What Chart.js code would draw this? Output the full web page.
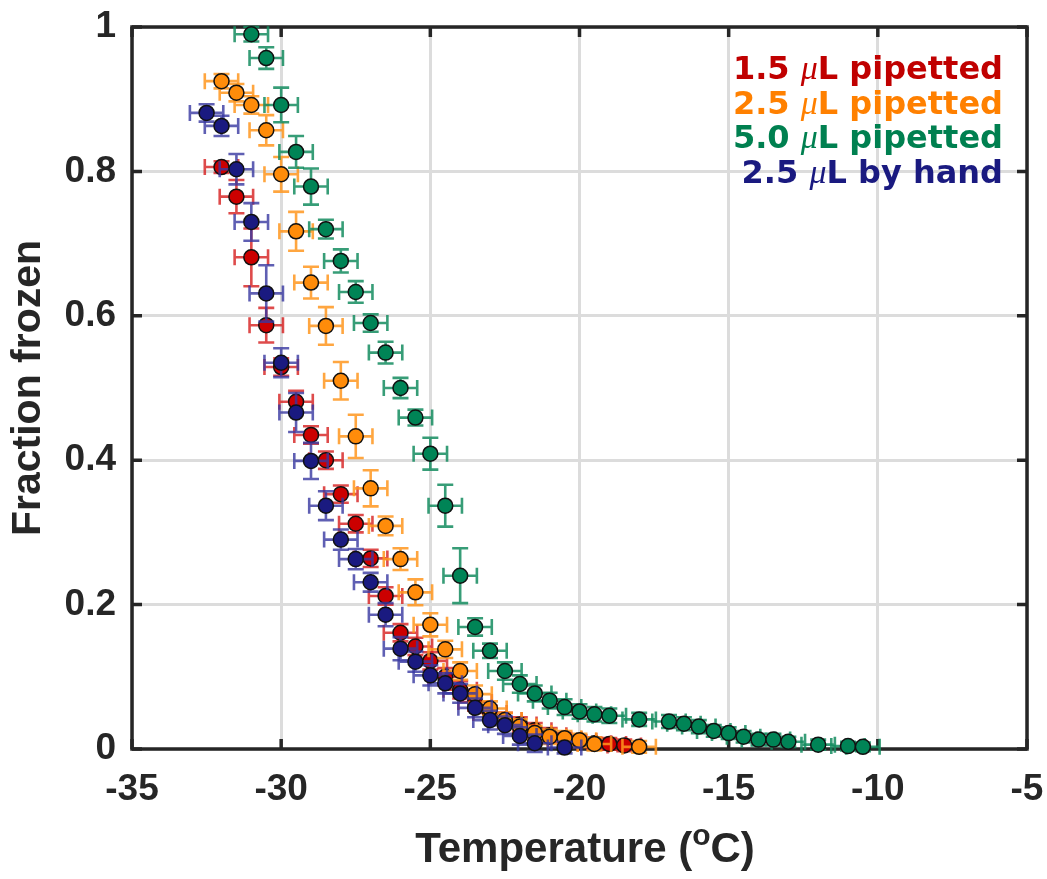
<!DOCTYPE html>
<html>
<head>
<meta charset="utf-8">
<script src="https://cdn.jsdelivr.net/npm/chart.js@4.4.0/dist/chart.umd.min.js"></script>
<style>
  html, body { margin: 0; padding: 0; background: #fff; }
</style>
</head>
<body>
<canvas id="graficoCongelado" width="1047" height="879"></canvas>
<script>
// Temperatura (°C), fracción congelada y error vertical de cada serie
const tempRed = [-32, -31.5, -31, -30.5, -30, -29.5, -29, -28.5, -28, -27.5, -27, -26.5, -26, -25.5, -25, -24.5, -24, -23.5, -23, -22.5, -22, -21.5, -21, -20.5, -20, -19.5, -19, -18.5];
const fracRed = [0.806, 0.765, 0.681, 0.587, 0.529, 0.481, 0.435, 0.400, 0.353, 0.312, 0.264, 0.212, 0.161, 0.142, 0.122, 0.100, 0.082, 0.065, 0.050, 0.040, 0.034, 0.026, 0.019, 0.014, 0.011, 0.008, 0.007, 0.005];
const errRed = [0.008, 0.023, 0.040, 0.024, 0.012, 0.015, 0.012, 0.012, 0.012, 0.012, 0.012, 0.012, 0.012, 0.012, 0.012, 0.012, 0.012, 0.012, 0.010, 0.010, 0.010, 0.010, 0.010, 0.008, 0.008, 0.008, 0.008, 0.008];

const tempOrange = [-32, -31.5, -31, -30.5, -30, -29.5, -29, -28.5, -28, -27.5, -27, -26.5, -26, -25.5, -25, -24.5, -24, -23.5, -23, -22.5, -22, -21.5, -21, -20.5, -20, -19.5, -18];
const fracOrange = [0.925, 0.909, 0.892, 0.857, 0.796, 0.717, 0.646, 0.586, 0.510, 0.433, 0.361, 0.309, 0.263, 0.217, 0.172, 0.138, 0.108, 0.076, 0.056, 0.040, 0.031, 0.022, 0.017, 0.015, 0.012, 0.007, 0.003];
const errOrange = [0.010, 0.012, 0.012, 0.021, 0.024, 0.027, 0.022, 0.026, 0.026, 0.030, 0.025, 0.013, 0.015, 0.018, 0.016, 0.012, 0.012, 0.012, 0.010, 0.010, 0.010, 0.010, 0.010, 0.010, 0.009, 0.009, 0.008];

const tempGreen = [-31, -30.5, -30, -29.5, -29, -28.5, -28, -27.5, -27, -26.5, -26, -25.5, -25, -24.5, -24, -23.5, -23, -22.5, -22, -21.5, -21, -20.5, -20, -19.5, -19, -18, -17, -16.5, -16, -15.5, -15, -14.5, -14, -13.5, -13, -12, -11, -10.5];
const fracGreen = [0.990, 0.957, 0.892, 0.827, 0.779, 0.720, 0.676, 0.633, 0.590, 0.549, 0.500, 0.459, 0.409, 0.337, 0.240, 0.169, 0.136, 0.108, 0.090, 0.077, 0.067, 0.058, 0.052, 0.048, 0.046, 0.041, 0.038, 0.035, 0.031, 0.025, 0.022, 0.017, 0.013, 0.013, 0.010, 0.006, 0.004, 0.003];
const errGreen = [0.010, 0.015, 0.024, 0.022, 0.025, 0.013, 0.016, 0.015, 0.012, 0.015, 0.014, 0.011, 0.022, 0.029, 0.038, 0.012, 0.010, 0.012, 0.012, 0.011, 0.011, 0.011, 0.010, 0.010, 0.010, 0.009, 0.009, 0.009, 0.009, 0.008, 0.008, 0.008, 0.008, 0.008, 0.007, 0.007, 0.006, 0.006];

const tempBlue = [-32.5, -32, -31.5, -31, -30.5, -30, -29.5, -29, -28.5, -28, -27.5, -27, -26.5, -26, -25.5, -25, -24.5, -24, -23.5, -23, -22.5, -22, -21.5, -20.5];
const fracBlue = [0.881, 0.863, 0.803, 0.730, 0.631, 0.535, 0.466, 0.399, 0.337, 0.290, 0.263, 0.231, 0.186, 0.139, 0.121, 0.102, 0.091, 0.077, 0.057, 0.040, 0.033, 0.018, 0.008, 0.002];
const errBlue = [0.012, 0.014, 0.021, 0.026, 0.039, 0.020, 0.027, 0.025, 0.020, 0.014, 0.014, 0.013, 0.016, 0.016, 0.014, 0.014, 0.014, 0.013, 0.013, 0.013, 0.012, 0.012, 0.012, 0.008];

// error horizontal de la temperatura (°C), igual para todos los puntos
const tempErr = 0.56;

const xTicks = ['-35', '-30', '-25', '-20', '-15', '-10', '-5'];
const yTicks = ['0', '0.2', '0.4', '0.6', '0.8', '1'];

const legendVolume = ['1.5 ', '2.5 ', '5.0 ', '2.5 '];
const legendMethod = ['L pipetted', 'L pipetted', 'L pipetted', 'L by hand'];

const FONT = '"Liberation Sans", Arial, sans-serif';
const INK = '#262626';

function puntos(tx, fy, ey) {
    return tx.map((t, i) => ({ x: t, y: fy[i], e: ey[i] }));
}

// colores: relleno del marcador, barras de error, texto de la leyenda
const series = [
    { data: puntos(tempRed, fracRed, errRed), fill: '#cc0000', bar: 'rgba(214,30,30,0.8)', text: '#c00000', order: 4 },
    { data: puntos(tempOrange, fracOrange, errOrange), fill: '#ff8c0a', bar: 'rgba(255,150,30,0.85)', text: '#ff8000', order: 3 },
    { data: puntos(tempGreen, fracGreen, errGreen), fill: '#008456', bar: 'rgba(20,140,95,0.85)', text: '#008050', order: 2 },
    { data: puntos(tempBlue, fracBlue, errBlue), fill: '#1a1a80', bar: 'rgba(55,55,160,0.8)', text: '#1a1a80', order: 1 }
];

// Barras de error dibujadas justo antes de los marcadores de cada serie
const barrasError = {
    id: 'barrasError',
    beforeDatasetDraw(chart, args) {
        const ds = chart.data.datasets[args.index];
        const sx = chart.scales.x, sy = chart.scales.y;
        const ctx = chart.ctx;
        const cap = 8;
        ctx.save();
        ctx.strokeStyle = ds.barColor;
        ctx.lineWidth = 2.6;
        ds.data.forEach(p => {
            const px = sx.getPixelForValue(p.x), py = sy.getPixelForValue(p.y);
            const x0 = sx.getPixelForValue(p.x - tempErr), x1 = sx.getPixelForValue(p.x + tempErr);
            const y0 = sy.getPixelForValue(p.y - p.e), y1 = sy.getPixelForValue(p.y + p.e);
            ctx.beginPath();
            ctx.moveTo(x0, py); ctx.lineTo(x1, py);
            ctx.moveTo(x0, py - cap); ctx.lineTo(x0, py + cap);
            ctx.moveTo(x1, py - cap); ctx.lineTo(x1, py + cap);
            ctx.moveTo(px, y0); ctx.lineTo(px, y1);
            ctx.moveTo(px - cap, y0); ctx.lineTo(px + cap, y0);
            ctx.moveTo(px - cap, y1); ctx.lineTo(px + cap, y1);
            ctx.stroke();
        });
        ctx.restore();
    }
};

// Marco del gráfico con marcas hacia dentro en los cuatro lados
const marco = {
    id: 'marco',
    beforeDatasetsDraw(chart) {
        const { ctx, chartArea: a, scales } = chart;
        const len = 10;
        ctx.save();
        ctx.strokeStyle = INK;
        ctx.lineWidth = 3.5;
        ctx.beginPath();
        scales.x.ticks.forEach(t => {
            const px = scales.x.getPixelForValue(t.value);
            ctx.moveTo(px, a.bottom); ctx.lineTo(px, a.bottom - len);
            ctx.moveTo(px, a.top); ctx.lineTo(px, a.top + len);
        });
        scales.y.ticks.forEach(t => {
            const py = scales.y.getPixelForValue(t.value);
            ctx.moveTo(a.left, py); ctx.lineTo(a.left + len, py);
            ctx.moveTo(a.right, py); ctx.lineTo(a.right - len, py);
        });
        ctx.stroke();
        ctx.strokeRect(a.left, a.top, a.right - a.left, a.bottom - a.top);
        ctx.restore();
    }
};

// Leyenda de texto coloreado y título del eje x con superíndice
const textos = {
    id: 'textos',
    afterDraw(chart) {
        const ctx = chart.ctx;
        const a = chart.chartArea;
        ctx.save();
        ctx.textBaseline = 'alphabetic';
        ctx.textAlign = 'left';

        const fBold = 'bold 32px "DejaVu Sans", sans-serif';
        const fMu = 'italic 34px "Liberation Serif", serif';
        const right = 1003;
        legendVolume.forEach((vol, i) => {
            const base = 79 + i * 34.5;
            ctx.font = fBold;
            const w1 = ctx.measureText(vol).width;
            const w3 = ctx.measureText(legendMethod[i]).width;
            ctx.font = fMu;
            const w2 = ctx.measureText('\u03bc').width;
            let x = right - (w1 + w2 + w3);
            ctx.fillStyle = series[i].text;
            ctx.font = fBold;
            ctx.fillText(vol, x, base);
            x += w1;
            ctx.font = fMu;
            ctx.fillText('\u03bc', x, base);
            x += w2;
            ctx.font = fBold;
            ctx.fillText(legendMethod[i], x, base);
        });

        // título del eje x: Temperature (ºC)
        const fTit = 'bold 42px ' + FONT;
        const fSup = 'bold 30px ' + FONT;
        const p1 = 'Temperature (', p2 = 'o', p3 = 'C)';
        ctx.font = fTit;
        const w1 = ctx.measureText(p1).width, w3 = ctx.measureText(p3).width;
        ctx.font = fSup;
        const w2 = ctx.measureText(p2).width;
        const base = 862;
        let x = 585 - (w1 + w2 + w3) / 2;
        ctx.fillStyle = INK;
        ctx.font = fTit;
        ctx.fillText(p1, x, base);
        x += w1;
        ctx.font = fSup;
        ctx.fillText(p2, x, base - 17);
        x += w2;
        ctx.font = fTit;
        ctx.fillText(p3, x, base);
        ctx.restore();
    }
};

const ctx = document.getElementById('graficoCongelado').getContext('2d');

new Chart(ctx, {
    type: 'scatter',
    data: {
        datasets: series.map(s => ({
            data: s.data,
            backgroundColor: s.fill,
            borderColor: '#111111',
            borderWidth: 1.5,
            pointRadius: 7.5,
            pointHoverRadius: 7.5,
            barColor: s.bar,
            order: s.order,
            clip: false
        }))
    },
    options: {
        responsive: false,
        animation: false,
        layout: { padding: { top: 27, right: 20, left: 0, bottom: 0 } },
        plugins: {
            legend: { display: false },
            tooltip: { enabled: false }
        },
        scales: {
            x: {
                type: 'linear',
                min: -35,
                max: -5,
                afterFit: scale => {
                    scale.height = 130;
                    scale.paddingLeft = 0;
                    scale.paddingRight = 0;
                },
                afterBuildTicks: scale => {
                    scale.ticks = xTicks.map(v => ({ value: parseFloat(v) }));
                },
                ticks: {
                    callback: (v, i) => xTicks[i],
                    font: { family: FONT, size: 37, weight: 'bold' },
                    color: INK,
                    padding: 19,
                    maxRotation: 0
                },
                grid: { color: '#dcdcdc', lineWidth: 3, drawTicks: false },
                border: { display: false }
            },
            y: {
                type: 'linear',
                min: 0,
                max: 1,
                afterFit: scale => {
                    scale.width = 132;
                    scale.paddingTop = 0;
                    scale.paddingBottom = 0;
                },
                afterBuildTicks: scale => {
                    scale.ticks = yTicks.map(v => ({ value: parseFloat(v) }));
                },
                ticks: {
                    callback: (v, i) => yTicks[i],
                    font: { family: FONT, size: 37, weight: 'bold' },
                    color: INK,
                    padding: 16
                },
                title: {
                    display: true,
                    text: 'Fraction frozen',
                    font: { family: FONT, size: 41, weight: 'bold' },
                    color: INK,
                    padding: { top: 4, bottom: 0 }
                },
                grid: { color: '#dcdcdc', lineWidth: 3, drawTicks: false },
                border: { display: false }
            }
        }
    },
    plugins: [barrasError, marco, textos]
});
</script>
</body>
</html>
